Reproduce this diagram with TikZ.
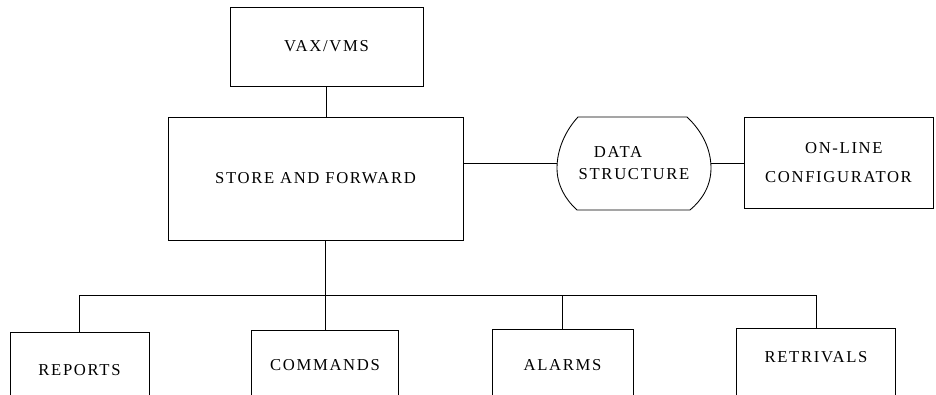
\documentclass[tikz,border=0pt]{standalone}
\usepackage{fontspec}
\setmainfont{Liberation Serif}[LetterSpace=10]
\usetikzlibrary{calc}
\tikzset{>=latex}
\tikzset{
  blk/.style={draw,black,line width=0.65pt,inner sep=0pt,align=center,font=\fontsize{12.5}{15}\selectfont},
  leaf/.style={draw,black,line width=0.65pt,inner sep=0pt,anchor=north,font=\fontsize{12.5}{15}\selectfont},
}

\begin{document}
\begin{tikzpicture}[x=0.75pt,y=-0.75pt]
            \clip (0,0) rectangle (936,394);
            \node[blk,minimum width=144.75pt,minimum height=59.25pt] (vax) at (326.5,46.5) {VAX/VMS};
            \node[blk,minimum width=221.25pt,minimum height=92.25pt] (store) at (315.5,178.5) {STORE AND FORWARD};
            \node[blk,draw=none,minimum width=115.5pt,minimum height=69.75pt] (ds) at (634,163.5) {DATA\hspace*{24pt}\\[1.5pt]STRUCTURE};
            \node[blk,minimum width=141.75pt,minimum height=68.25pt] (conf) at (838.5,162.5) {\hspace*{8pt}ON-LINE\\[6.75pt]CONFIGURATOR};
            \node[leaf,minimum width=104.25pt,text height=32.25pt,text depth=42.75pt] (rep) at (79.5,332) {REPORTS};
            \node[leaf,minimum width=110.25pt,text height=30pt,text depth=45pt] (com) at (325,330) {COMMANDS};
            \node[leaf,minimum width=105.75pt,text height=30.75pt,text depth=44.25pt] (alm) at (562.5,329) {ALARMS};
            \node[leaf,minimum width=119.25pt,text height=25.5pt,text depth=49.5pt] (ret) at (816,328) {RETRIVALS};
            \coordinate (bus) at (0,295);
            \draw[black,line width=0.65pt] (578,117) -- (687,117) .. controls (703,132) and (711,150) .. (711,168)
                .. controls (711,186) and (702,200) .. (690,210) -- (577,210)
                .. controls (565,199) and (557,185) .. (557,168) .. controls (557,150) and (565,131) .. (578,117) -- cycle;
            \draw[black,line width=0.65pt] (vax.south) -- (vax.south |- store.north);
            \draw[black,line width=0.65pt] (ds.west) -- (ds.west -| store.east);
            \draw[black,line width=0.65pt] (ds.east) -- (ds.east -| conf.west);
            \draw[black,line width=0.65pt] (store.south -| com.north) -- (com.north);
            \draw[black,line width=0.65pt] (rep.north) |- (ret.north |- bus) -- (ret.north);
            \draw[black,line width=0.65pt] (alm.north) -- (alm.north |- bus);
        \end{tikzpicture}
\end{document}
